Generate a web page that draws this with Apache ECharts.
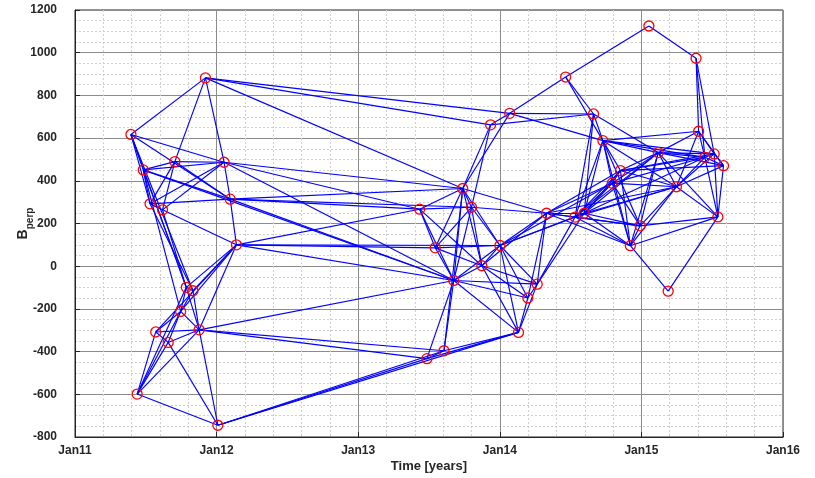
<!DOCTYPE html>
<html>
<head>
<meta charset="utf-8">
<script src="https://cdn.jsdelivr.net/npm/echarts@6/dist/echarts.min.js"></script>
<style>
  html, body { margin: 0; padding: 0; background: #ffffff; }
  #chart { width: 815px; height: 478px; }
</style>
</head>
<body>
<div id="chart"></div>
<script>
// Acquisitions of the small-baseline network: id, acquisition time (decimal years), perpendicular baseline (m)
const scenes = ['A','B','C','D','E','F','G','H','I','J','K','L','M','N','O','P','Q',
                'R','S','T','U','V','W','X','Y','Z','a','b','c','d','e','f',
                'g','h','i','j','k','l','m','n','o','p','q','r','s','t','u','v','w','x','y'];
const acqYear = [2011.395, 2011.482, 2011.705, 2011.530, 2011.618, 2011.921, 2012.053, 2012.096, 2012.140,
                 2011.786, 2011.833, 2011.746, 2011.570, 2011.658, 2011.877, 2011.439, 2012.009,
                 2013.434, 2013.544, 2013.738, 2013.800, 2013.935, 2014.070, 2014.001, 2013.873, 2013.675,
                 2013.485, 2013.606, 2014.132, 2014.198, 2014.264, 2014.330,
                 2014.465, 2014.662, 2014.728, 2014.531, 2014.596, 2014.794, 2014.852, 2014.922, 2014.991,
                 2015.053, 2015.119, 2015.189, 2015.247, 2015.386, 2015.404, 2015.448, 2015.514, 2015.580, 2015.540];
const bperp = [617, 451, 490, 292, 264, 882, 487, 314, 100,
               -99, -115, -212, -308, -357, -298, -599, -745,
               267, 86, 364, 276, 662, 716, 97, 2, -67,
               -433, -396, -310, -149, -84, 248,
               886, 713, 588, 230, 248, 389, 448, 96, 189,
               1125, 532, -117, 372, 974, 632, 510, 526, 471, 231];

// Interferometric pairs (master-slave)
const pairs = [
  // 2011 - early 2012
  'F-A','F-C','F-G','F-V','F-W','F-T',
  'A-B','A-G','A-H','A-D','A-J','A-K',
  'B-C','B-G','B-H','B-D','B-Z','B-J','B-L',
  'C-G','C-D','C-E','C-H',
  'D-E','D-H','D-K','D-G',
  'E-G','E-I','E-O',
  'G-H','G-T','G-R','G-Z',
  'H-I','H-T','H-R','H-U','H-Z',
  'I-R','I-S','I-X','I-Z','I-J','I-K','I-L','I-M','I-O',
  'J-K','J-L','J-P',
  'K-O','K-L',
  'L-M','L-N','L-P','L-O',
  'M-O','M-P','M-N',
  'N-O','N-Q','N-P',
  'O-P','O-Q','O-Z','O-a','O-b',
  'P-Q',
  'Q-a','Q-b','Q-c',
  'a-b','a-c','b-c','a-Z','b-Z','b-T',
  // 2013 - 2014
  'R-T','R-U','R-S','R-Z','R-Y',
  'S-T','S-U','S-X','S-Z','S-Y',
  'T-U','T-Z','T-Y','T-X','T-f','T-V','T-W',
  'U-f','U-Z','U-Y','U-X','U-V',
  'V-W','V-h','W-h','W-i','W-g',
  'X-Y','X-Z','X-f','X-e','X-d','X-c','X-j','X-k','X-l',
  'Y-Z','Y-e','Y-d','Y-c','Y-f',
  'Z-e','Z-d','Z-c',
  'c-d','c-e','d-e','d-f','e-f','e-j','e-k',
  // 2014 - 2015
  'g-p','g-h','g-i','p-t',
  't-u','t-v','t-w',
  'h-i','h-q','h-j','h-k',
  'i-u','i-q','i-v','i-w','i-s','i-m','i-l','i-k','i-j','i-n','i-o',
  'f-j','f-k','f-l','f-m','f-n','f-o','f-s',
  'j-k','j-l','j-m','j-n','j-o','j-s','j-q',
  'k-l','k-m','k-n','k-o','k-q','k-s','k-v',
  'l-m','l-q','l-s','l-v','l-n','l-o',
  'm-q','m-v','m-w','m-x','m-s','m-n',
  'n-o','n-s','n-y','n-r','n-q',
  'o-y','o-s','o-q',
  'q-u','q-v','q-w','q-x','q-s','q-y',
  's-u','s-v','s-w','s-x','s-y',
  'u-v','u-w','u-x',
  'v-w','v-x','w-x','w-y','x-y','v-y',
  'r-y'
];

const yearTicks = ['Jan11', 'Jan12', 'Jan13', 'Jan14', 'Jan15', 'Jan16'];

const nodes = scenes.map((id, i) => ({ name: id, value: [acqYear[i], bperp[i]] }));
const links = pairs.map(p => {
  const [s, t] = p.split('-');
  return { source: s, target: t };
});

const FONT = 'Liberation Sans, Arial, sans-serif';
const labelFont = { fontFamily: FONT, fontWeight: 'bold', fontSize: 12, color: '#262626' };

const chart = echarts.init(document.getElementById('chart'), null, { renderer: 'canvas' });
chart.setOption({
  animation: false,
  backgroundColor: '#ffffff',
  grid: {
    left: 75, right: 32, top: 10, bottom: 41,
    containLabel: false,
    outerBoundsMode: 'none',
    show: true, borderColor: '#262626', borderWidth: 1, backgroundColor: 'transparent'
  },
  xAxis: {
    type: 'value',
    min: 2011, max: 2016, interval: 1,
    name: 'Time [years]',
    nameLocation: 'middle',
    nameGap: 23,
    nameMoveOverlap: false,
    nameTextStyle: { fontFamily: FONT, fontWeight: 'bold', fontSize: 13, color: '#262626' },
    axisLine: { show: true, onZero: false, lineStyle: { color: '#262626', width: 1 } },
    axisTick: { show: true, inside: true, length: 5, lineStyle: { color: '#262626' } },
    axisLabel: Object.assign({ margin: 8, formatter: v => yearTicks[Math.round(v - 2011)] }, labelFont),
    splitLine: { show: true, lineStyle: { color: '#8c8c8c', width: 1 } },
    minorTick: { show: false, splitNumber: 5 },
    minorSplitLine: { show: true, lineStyle: { color: '#cfcfcf', width: 1, type: [2, 2] } }
  },
  yAxis: {
    type: 'value',
    min: -800, max: 1200, interval: 200,
    name: '{b|B}{s|perp}',
    nameLocation: 'middle',
    nameGap: 40,
    nameMoveOverlap: false,
    nameTextStyle: {
      rich: {
        b: { fontFamily: FONT, fontWeight: 'bold', fontSize: 14, color: '#262626', verticalAlign: 'bottom', padding: [0, 0, 5, 0] },
        s: { fontFamily: FONT, fontWeight: 'bold', fontSize: 10, color: '#262626', verticalAlign: 'bottom' }
      }
    },
    axisLine: { show: true, onZero: false, lineStyle: { color: '#262626', width: 1 } },
    axisTick: { show: true, inside: true, length: 5, lineStyle: { color: '#262626' } },
    axisLabel: Object.assign({ margin: 18, formatter: v => String(v) }, labelFont),
    splitLine: { show: true, lineStyle: { color: '#8c8c8c', width: 1 } },
    minorTick: { show: false, splitNumber: 4 },
    minorSplitLine: { show: true, lineStyle: { color: '#cfcfcf', width: 1, type: [2, 2] } }
  },
  series: [{
    type: 'graph',
    coordinateSystem: 'cartesian2d',
    layout: 'none',
    data: nodes,
    links: links,
    symbol: 'circle',
    symbolSize: 10,
    itemStyle: { color: 'rgba(255,255,255,0)', borderColor: '#ff0000', borderWidth: 1.3 },
    lineStyle: { color: '#0000ff', width: 1.15, opacity: 1, curveness: 0 },
    label: { show: false },
    emphasis: { disabled: true },
    silent: true,
    z: 3
  }]
});
</script>
</body>
</html>
